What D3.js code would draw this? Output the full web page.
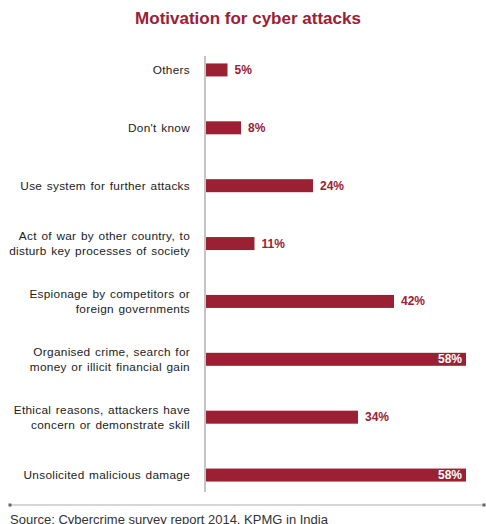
<!DOCTYPE html>
<html lang="en">
  <head>
    <script src="https://d3js.org/d3.v7.min.js"></script>
    <meta charset="utf-8">
    <style>
      body { margin: 0; background: #fff; }
      .labels text { font: 11.8px "Liberation Sans", Arial, sans-serif; fill: #222; letter-spacing: 0.3px; word-spacing: 1px; }
      .values text { font: bold 12px "Liberation Sans", Arial, sans-serif; }
    </style>
    <title>Motivation for cyber attacks</title>
  </head>
  <body>
    <svg id="chart" width="486" height="524"></svg>
  </body>
</html>

<script>
    const categories = [
        ["Others"],
        ["Don't know"],
        ["Use system for further attacks"],
        ["Act of war by other country, to", "disturb key processes of society"],
        ["Espionage by competitors or", "foreign governments"],
        ["Organised crime, search for", "money or illicit financial gain"],
        ["Ethical reasons, attackers have", "concern or demonstrate skill"],
        ["Unsolicited malicious damage"]
    ];
    const values = [5, 8, 24, 11, 42, 58, 34, 58];

    const red = "#9c2033";
    const svg = d3.select("#chart");

    const x = d3.scaleLinear().domain([0, 58]).range([205, 466]);
    const y = d3.scalePoint()
        .domain(d3.range(categories.length))
        .range([41, 504])
        .padding(0.5);
    const barH = 13;

    // title
    svg.append("text")
        .attr("x", 248)
        .attr("y", 24)
        .attr("text-anchor", "middle")
        .attr("fill", red)
        .style("font", "bold 17px 'Liberation Sans', Arial, sans-serif")
        .text("Motivation for cyber attacks");

    // bars
    svg.append("g")
        .selectAll("rect")
        .data(values)
        .enter().append("rect")
        .attr("x", x(0))
        .attr("y", (d, i) => y(i) - barH / 2)
        .attr("width", d => x(d) - x(0))
        .attr("height", barH)
        .attr("fill", red);

    // axis line
    svg.append("line")
        .attr("x1", x(0)).attr("x2", x(0))
        .attr("y1", 56).attr("y2", 492)
        .attr("stroke", "#c4c4c4")
        .attr("stroke-width", 2);

    // category labels
    const lab = svg.append("g")
        .attr("class", "labels")
        .selectAll("text")
        .data(categories)
        .enter().append("text")
        .attr("text-anchor", "end")
        .attr("x", 190)
        .attr("y", (d, i) => y(i) - (d.length - 1) * 7.5 + 4);
    lab.selectAll("tspan")
        .data(d => d)
        .enter().append("tspan")
        .attr("x", 190)
        .attr("dy", (d, i) => i ? 15 : 0)
        .text(d => d);

    // value labels
    const maxV = d3.max(values);
    svg.append("g")
        .attr("class", "values")
        .selectAll("text")
        .data(values)
        .enter().append("text")
        .attr("x", d => d === maxV ? x(d) - 4 : x(d) + 7)
        .attr("y", (d, i) => y(i) + 4)
        .attr("text-anchor", d => d === maxV ? "end" : "start")
        .attr("fill", d => d === maxV ? "#fff" : red)
        .text(d => d + "%");

    // footer rule
    svg.append("line")
        .attr("x1", 10).attr("x2", 484)
        .attr("y1", 505).attr("y2", 505)
        .attr("stroke", "#b0b0b0")
        .attr("stroke-width", 1.2);
    svg.selectAll("rect.dot")
        .data([10, 484])
        .enter().append("rect")
        .attr("class", "dot")
        .attr("x", d => d - 1.5)
        .attr("y", 503.5)
        .attr("width", 3)
        .attr("height", 3)
        .attr("fill", "#666");

    svg.append("text")
        .attr("x", 10)
        .attr("y", 524)
        .attr("fill", "#333")
        .style("font", "13px 'Liberation Sans', Arial, sans-serif")
        .text("Source: Cybercrime survey report 2014, KPMG in India");
</script>
